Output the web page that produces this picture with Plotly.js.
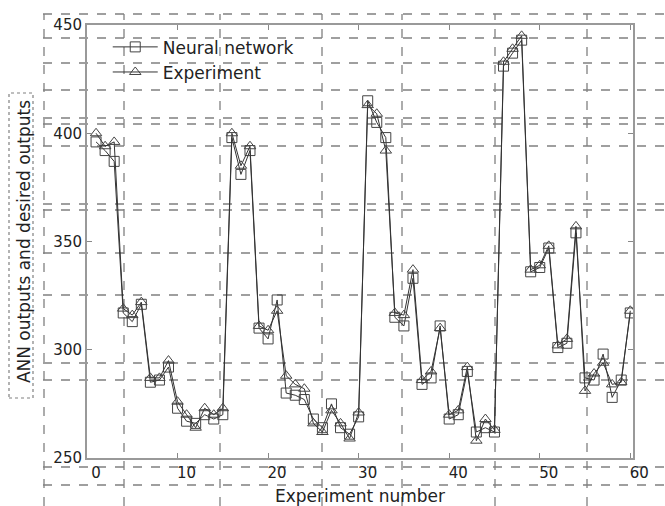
<!DOCTYPE html>
<html>
<head>
<meta charset="utf-8">
<script src="https://cdn.plot.ly/plotly-3.0.1.min.js"></script>
<style>html,body{margin:0;padding:0;background:#fff;}#chart{width:665px;height:506px;}</style>
</head>
<body>
<div id="chart"></div>
<script>
// Data
var experimentNumber = [1,2,3,4,5,6,7,8,9,10,11,12,13,14,15,16,17,18,19,20,21,22,23,24,25,26,27,28,29,30,31,32,33,34,35,36,37,38,39,40,41,42,43,44,45,46,47,48,49,50,51,52,53,54,55,56,57,58,59,60];
var neuralNetwork = [396,392,387,317,313,321,285,286,292,273,267,266,270,268,270,398,381,392,310,305,323,280,279,277,268,264,275,264,261,269,415,405,398,315,311,333,284,287,311,268,270,290,262,264,262,431,437,443,336,338,347,301,303,354,287,286,298,278,286,317];
var experiment    = [400,394,396,319,316,322,287,287,295,276,270,264,273,270,273,400,385,394,311,309,318,288,284,282,266,262,272,266,259,271,413,409,392,317,316,337,286,290,310,270,272,292,258,268,263,433,439,445,337,339,348,302,305,357,281,289,294,284,285,318];
var seriesNames = ["Neural network", "Experiment"];
var xTicks = [0,10,20,30,40,50,60];
var yTicks = [250,300,350,400,450];

// decoration: pixel -> paper helpers (plot area 87..633 x 25..458)
function PX(p){return (p-87)/546;}
function PY(p){return (458-p)/433;}
var shapes = [];
var vLines = [44,124,220,322,402,495,587];
var hLines = [14,38,63,90,118,124,146,204,210,253,295,363,380,467,485];
vLines.forEach(function(v){
  shapes.push({type:'line',xref:'paper',yref:'paper',x0:PX(v),x1:PX(v),y0:PY(506),y1:PY(14),
    line:{color:'#808080',width:1.3,dash:'dash'},layer:'below'});
});
hLines.forEach(function(h){
  shapes.push({type:'line',xref:'paper',yref:'paper',x0:PX(43),x1:PX(665),y0:PY(h),y1:PY(h),
    line:{color:'#808080',width:1.3,dash:'dash'},layer:'below'});
});
shapes.push({type:'rect',xref:'paper',yref:'paper',x0:PX(9),x1:PX(33),y0:PY(398),y1:PY(93),
  line:{color:'#808080',width:1.2,dash:'dot'},layer:'below'});

var lineCol = '#333';
var traces = [
  {x:experimentNumber,y:neuralNetwork,name:seriesNames[0],type:'scatter',mode:'lines+markers',
   line:{color:lineCol,width:1},marker:{symbol:'square-open',size:10,color:'#444',line:{width:1,color:'#444'}}},
  {x:experimentNumber,y:experiment,name:seriesNames[1],type:'scatter',mode:'lines+markers',
   line:{color:lineCol,width:1},marker:{symbol:'triangle-up-open',size:10,color:'#444',line:{width:1,color:'#444'}}}
];

var tickFont = {family:'DejaVu Sans, sans-serif',size:15,color:'#222'};
var layout = {
  width:665,height:506,
  margin:{l:87,r:32,t:25,b:48,pad:0},
  paper_bgcolor:'#fff',plot_bgcolor:'rgba(0,0,0,0)',
  font:{family:'DejaVu Sans, sans-serif',size:15,color:'#222'},
  showlegend:true,
  legend:{x:0.038,y:0.99,xanchor:'left',yanchor:'top',bgcolor:'rgba(0,0,0,0)',borderwidth:0,
    font:{family:'DejaVu Sans, sans-serif',size:17,color:'#222'},itemwidth:45,tracegroupgap:2},
  xaxis:{range:[0,60.3],tickvals:xTicks,ticktext:xTicks.map(String),ticks:'inside',ticklen:5,tickcolor:'#888',
    showgrid:false,zeroline:false,showline:true,linecolor:'#999',linewidth:2,mirror:'ticks',
    tickfont:tickFont,ticklabelshift:9,automargin:false,
    title:{text:'Experiment number',font:{family:'DejaVu Sans, sans-serif',size:17,color:'#222'},standoff:9}},
  yaxis:{range:[250,450],tickvals:yTicks,ticktext:yTicks.map(String),ticks:'inside',ticklen:5,tickcolor:'#888',
    showgrid:false,zeroline:false,showline:true,linecolor:'#999',linewidth:2,mirror:'ticks',
    tickfont:tickFont,automargin:false,
    title:{text:'ANN outputs and desired outputs',font:{family:'DejaVu Sans, sans-serif',size:17,color:'#222'},standoff:18}},
  shapes:shapes
};
Plotly.newPlot('chart',traces,layout,{displayModeBar:false,staticPlot:true});
</script>
</body>
</html>
